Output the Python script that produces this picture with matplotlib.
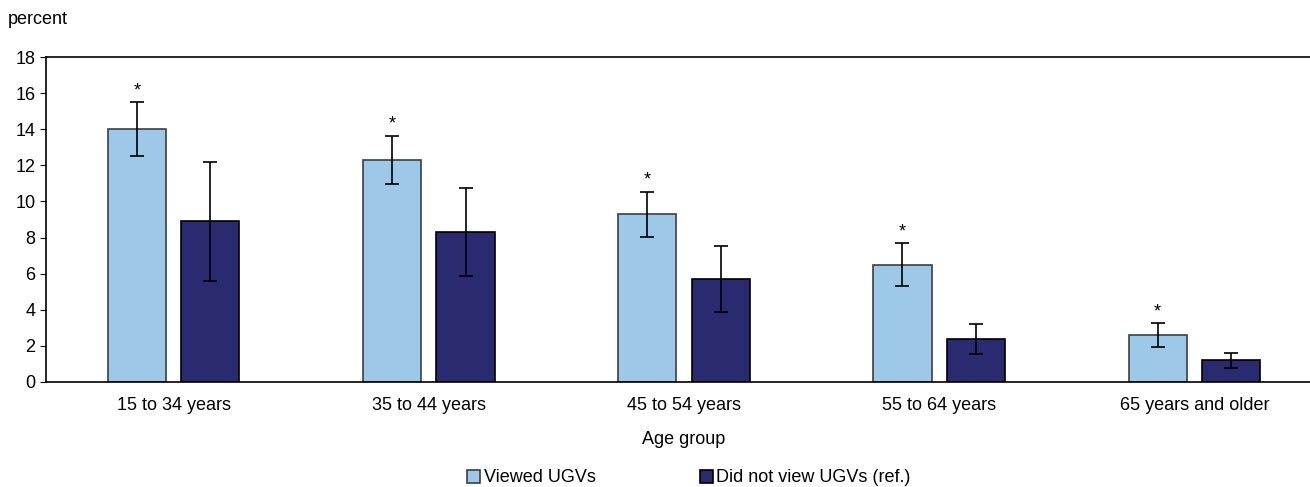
import numpy as np
import matplotlib.pyplot as plt
from matplotlib import font_manager

names = {f.name for f in font_manager.fontManager.ttflist}
family = "Liberation Sans Narrow" if "Liberation Sans Narrow" in names else "Liberation Sans"
plt.rcParams["font.family"] = [family, "DejaVu Sans"]

age_groups = ["15 to 34 years", "35 to 44 years", "45 to 54 years", "55 to 64 years", "65 years and older"]
viewed = [14.0, 12.3, 9.3, 6.5, 2.6]
viewed_err = [1.5, 1.35, 1.25, 1.2, 0.66]
not_viewed = [8.9, 8.3, 5.7, 2.4, 1.2]
not_viewed_err = [3.3, 2.45, 1.85, 0.83, 0.4]
significant = [True, True, True, True, True]

x = np.arange(len(age_groups))
w = 0.228
off = 0.144

fig = plt.figure(figsize=(13.1, 4.87), dpi=100)
# axes runs a little past the right edge of the figure, as in the original
ax = fig.add_axes([46 / 1310, 105 / 487, 1276 / 1310, 325 / 487])

ax.bar(x - off, viewed, w, color="#9ec8e8", edgecolor="#3a3f46", linewidth=1.2,
       yerr=viewed_err, capsize=5, error_kw=dict(ecolor="black", elinewidth=1.2, capthick=1.2),
       label="Viewed UGVs", zorder=2)
ax.bar(x + off, not_viewed, w, color="#2a2a70", edgecolor="black", linewidth=1.2,
       yerr=not_viewed_err, capsize=5, error_kw=dict(ecolor="black", elinewidth=1.2, capthick=1.2),
       label="Did not view UGVs (ref.)", zorder=2)

for xi, v, e, s in zip(x, viewed, viewed_err, significant):
    if s:
        ax.annotate("*", (xi - off, v + e), xytext=(0, 2), textcoords="offset points",
                    ha="center", va="bottom", fontsize=13)

ax.set_xlim(-0.5, len(age_groups) - 0.5)
ax.set_ylim(0, 18)
ax.set_yticks(np.arange(0, 19, 2))
ax.set_xticks(x)
ax.set_xticklabels(age_groups)
ax.tick_params(axis="y", length=4, labelsize=13)
ax.tick_params(axis="x", length=0, labelsize=13, pad=11)
ax.spines["right"].set_visible(False)
for s in ["left", "top", "bottom"]:
    ax.spines[s].set_linewidth(1.2)

ax.set_xlabel("Age group", fontsize=13, labelpad=12)
fig.text(8 / 1310, 1 - 20 / 487, "percent", fontsize=13, va="center", ha="left")

fig.legend(loc="center", bbox_to_anchor=(689 / 1310, 1 - 478 / 487), ncol=2, frameon=False,
           fontsize=13, handlelength=0.7, handleheight=0.7, handletextpad=0.2,
           columnspacing=5.8)

fig.savefig("out.png", dpi=100)
